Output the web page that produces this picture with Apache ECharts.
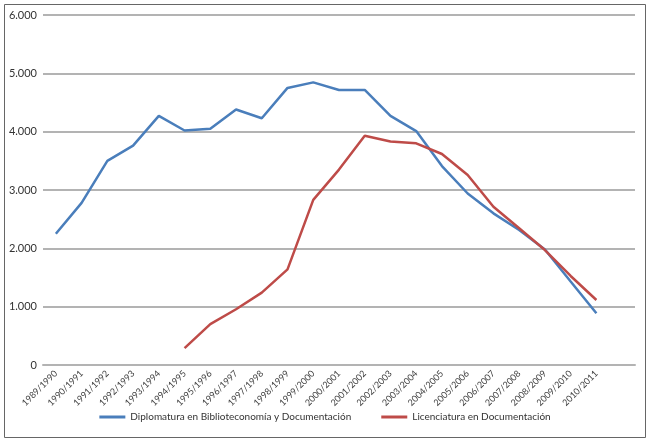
<!DOCTYPE html>
<html>
<head>
<meta charset="utf-8">
<script src="https://cdn.jsdelivr.net/npm/echarts@6/dist/echarts.min.js"></script>
<style>
html,body{margin:0;padding:0;background:#fff;}
#chart{width:650px;height:440px;}
</style>
</head>
<body>
<div id="chart"></div>
<script>
const categories = ["1989/1990","1990/1991","1991/1992","1992/1993","1993/1994","1994/1995","1995/1996","1996/1997","1997/1998","1998/1999","1999/2000","2000/2001","2001/2002","2002/2003","2003/2004","2004/2005","2005/2006","2006/2007","2007/2008","2008/2009","2009/2010","2010/2011",""];
const diplomatura = [2250,2780,3500,3760,4270,4020,4050,4380,4230,4750,4845,4715,4715,4270,4010,3410,2940,2600,2315,1980,1430,886];
const licenciatura = [null,null,null,null,null,290,700,955,1240,1640,2830,3350,3930,3830,3800,3617,3257,2714,2343,1971,1526,1114];
const seriesNames = ["Diplomatura en Biblioteconomía y Documentación","Licenciatura en Documentación"];
const seriesColors = ["#4a7ebb","#be4b48"];

const chart = echarts.init(document.getElementById('chart'), null, {renderer:'canvas'});
const font = 'Lato, "Liberation Sans", sans-serif';
chart.setOption({
  animation:false,
  backgroundColor:'#ffffff',
  graphic:[{type:'rect',shape:{x:4.5,y:4.5,width:641,height:433},style:{fill:'none',stroke:'#666666',lineWidth:1},silent:true}],
  grid:{left:43,right:15,top:15,bottom:75,containLabel:false},
  legend:{
    bottom:13,left:'center',
    icon:'rect',itemWidth:26,itemHeight:3,itemGap:30,
    textStyle:{fontFamily:font,fontSize:10,color:'#333333'},
    data:seriesNames
  },
  xAxis:{
    type:'category',data:categories,boundaryGap:true,
    axisLine:{show:true,lineStyle:{color:'#b3b3b3',width:2}},
    axisTick:{show:false},
    axisLabel:{interval:0,rotate:45,fontFamily:font,fontSize:9,color:'#404040',margin:7}
  },
  yAxis:{
    type:'value',min:0,max:6000,interval:1000,
    axisLine:{show:false},axisTick:{show:false},
    splitLine:{lineStyle:{color:'#b3b3b3',width:2}},
    axisLabel:{fontFamily:font,fontSize:11,color:'#333333',margin:6,
      formatter:function(v){return v===0?'0':(v/1000).toFixed(3);}}
  },
  series:[
    {name:seriesNames[0],type:'line',data:diplomatura,symbol:'none',color:seriesColors[0],lineStyle:{width:2.5,color:seriesColors[0]}},
    {name:seriesNames[1],type:'line',data:licenciatura,symbol:'none',color:seriesColors[1],lineStyle:{width:2.5,color:seriesColors[1]}}
  ]
});
</script>
</body>
</html>
